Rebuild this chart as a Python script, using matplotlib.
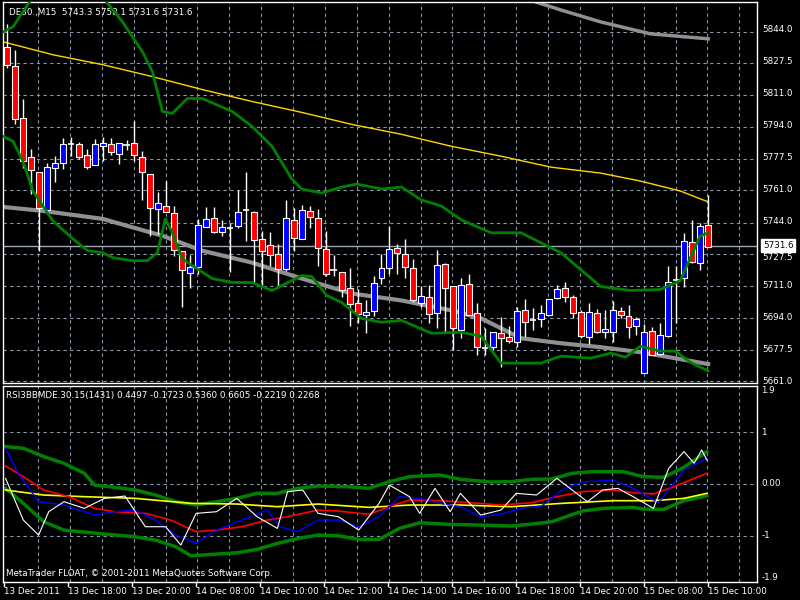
import matplotlib
matplotlib.use("Agg")
import matplotlib.pyplot as plt
import numpy as np

# ---- data (pixel-read, converted to prices) ----
Y0, P0, PPX = 30.0, 5844.0, 183.0/351.0
def px2p(y): return P0 - (np.asarray(y, float) - Y0) * PPX

# candles: open_y, close_y, high_y, low_y (read in chart pixels)
cand_open_y  = [45,64,117,156,171,209,167,162,143,143,154,164,145,143,153,144,142,156,173,208,205,212,250,272,266,226,217,231,227,225,209,211,238,244,253,268,219,238,210,217,248,269,271,288,303,315,311,277,267,247,253,267,303,297,313,263,285,330,283,313,348,347,333,337,342,310,320,319,315,298,288,297,312,337,313,332,332,311,316,326,373,331,354,336,279,277,241,262,224]
cand_close_y = [63,118,160,169,207,166,162,143,143,156,166,143,142,151,142,144,154,171,207,202,211,249,269,266,224,218,231,226,227,211,209,239,250,254,268,217,237,209,216,247,273,269,290,304,314,312,282,267,248,252,266,300,296,314,264,288,328,284,315,347,348,332,338,341,311,322,320,313,299,289,297,313,336,312,332,329,310,315,327,319,332,355,335,281,279,240,261,225,246]
cand_high_y  = [22,48,98,148,171,162,155,137,136,141,148,138,136,137,142,139,120,150,173,191,180,205,250,254,218,206,206,219,222,189,171,210,230,231,243,199,207,204,205,208,230,254,271,267,289,300,275,253,225,243,238,258,285,284,249,262,285,277,273,303,328,332,317,326,307,299,308,305,299,284,281,295,310,303,309,310,301,307,305,317,324,327,323,265,265,232,219,222,194]
cand_low_y   = [66,123,167,193,250,213,181,168,155,158,168,164,160,154,163,149,160,199,235,233,211,255,307,287,273,226,232,235,271,227,240,283,285,265,288,270,250,238,227,265,275,275,297,326,323,333,316,283,273,273,277,302,307,323,328,332,350,338,315,355,355,350,367,343,347,337,330,327,315,299,302,318,338,344,333,338,342,318,338,335,373,355,355,337,323,286,262,269,246]
cand_open = px2p(cand_open_y); cand_close = px2p(cand_close_y)
cand_high = px2p(cand_high_y); cand_low = px2p(cand_low_y)

def xs(px): return (np.asarray(px, float) - 4) / 8.0

yellow_x = [0,50,100,150,200,250,300,350,400,450,500,550,600,640,680,708]
yellow_y = [40,53,63,75,88,100,111,123,133,145,155,166,172,180,190,201]
graytop_x = [535,560,600,650,708]
graytop_y = [0,8,20,32,37]
graylow_x = [0,40,100,160,200,250,300,350,400,450,480,520,560,600,640,680,708]
graylow_y = [206,210,218,235,250,262,278,293,300,310,318,338,343,347,352,359,364]
bbup_x = [0,10,20,30,45,100,120,140,150,160,170,185,200,230,250,270,290,300,320,340,355,380,400,420,440,460,490,520,560,600,630,660,680,700,708]
bbup_y = [30,25,10,-5,-20,-5,20,50,70,110,112,97,97,110,125,145,178,188,192,186,183,188,186,199,205,219,232,232,252,286,290,289,280,235,232]
bblo_x = [0,10,20,30,40,50,70,85,100,110,130,145,155,163,170,180,190,210,230,250,270,280,300,310,325,340,360,380,400,430,460,480,500,540,560,590,610,625,640,660,675,690,708]
bblo_y = [135,140,160,190,205,220,238,250,252,257,260,260,252,218,232,258,265,278,282,282,290,285,275,276,295,302,318,322,320,333,332,336,363,363,356,358,353,357,346,351,351,362,371]
last_price = 5731.6

# indicator (zoom coords -> value)
def izx(z): return (np.asarray(z, float) / 1.96 - 4) / 8.0
def izy(z): return (312 - np.asarray(z, float)) / 154.5
ind_up = [(5,200),(40,205),(80,230),(120,250),(160,280),(180,315),(220,322),(260,330),(300,345),(340,365),(380,375),(420,365),(460,355),(500,340),(540,340),(580,325),(620,318),(680,320),(720,325),(760,305),(800,290),(860,285),(900,298),(960,306),(1000,305),(1040,298),(1080,297),(1120,280),(1160,275),(1220,275),(1260,290),(1300,292),(1340,262),(1385,215)]
ind_lo = [(5,325),(40,370),(80,425),(120,450),(200,462),(260,470),(300,480),(340,500),(370,527),(420,522),(460,518),(500,508),(540,490),(580,475),(620,465),(660,467),(700,478),(740,478),(780,445),(820,428),(880,433),(940,435),(1000,438),(1040,432),(1080,425),(1140,393),(1180,385),(1240,382),(1260,387),(1300,388),(1340,362),(1385,347)]
ind_yel = [(5,330),(80,345),(160,350),(260,355),(370,370),(460,372),(540,380),(620,372),(720,382),(800,375),(900,375),(1000,380),(1100,370),(1200,362),(1280,362),(1340,355),(1385,340)]
ind_red = [(5,258),(40,290),(80,330),(130,350),(180,385),(220,395),(280,400),(330,420),(380,455),(420,450),(470,440),(520,420),(560,410),(620,390),(660,393),(720,403),(760,380),(800,360),(860,362),(920,368),(980,375),(1040,368),(1090,350),(1140,335),(1200,330),(1240,338),(1280,342),(1320,320),(1385,280)]
ind_blue = [(5,205),(30,280),(70,365),(120,375),(180,405),(220,395),(260,390),(300,420),(340,465),(380,490),(420,450),(470,420),(520,390),(545,440),(580,455),(620,420),(660,420),(700,440),(740,410),(780,350),(820,355),(860,370),(900,380),(940,410),(980,402),(1020,385),(1060,378),(1100,330),(1140,306),(1200,300),(1240,325),(1290,368),(1340,270),(1385,235)]
ind_white = [(5,295),(40,420),(70,465),(90,395),(120,365),(160,385),(200,355),(240,348),(280,440),(320,440),(350,495),(380,400),(420,395),(460,355),(500,410),(540,445),(560,335),(590,330),(620,400),(660,410),(700,450),(740,370),(760,315),(800,350),(820,400),(850,325),(880,395),(900,340),(940,405),(980,390),(1010,340),(1050,345),(1090,295),(1120,330),(1150,365),(1180,330),(1210,325),(1240,350),(1280,385),(1310,265),(1340,215),(1360,250),(1375,210),(1385,240)]

price_ticks = [5844.0,5827.5,5811.0,5794.0,5777.5,5761.0,5744.0,5727.5,5711.0,5694.0,5677.5,5661.0]
date_labels = ['13 Dec 2011','13 Dec 18:00','13 Dec 20:00','14 Dec 08:00','14 Dec 10:00','14 Dec 12:00',
               '14 Dec 14:00','14 Dec 16:00','14 Dec 18:00','14 Dec 20:00','15 Dec 08:00','15 Dec 10:00']

# ---- figure ----
FS = 6.3
fig = plt.figure(figsize=(8, 6), dpi=100, facecolor='black')
W, H = 800.0, 600.0
ax = fig.add_axes([3/W, 1-383/H, 754/W, 381/H], facecolor='black')
ai = fig.add_axes([3/W, 1-582/H, 754/W, 196/H], facecolor='black')
xlim = ((0-4)/8.0, (757-4)/8.0)
GRID = dict(color='#8896a8', ls=(0, (3, 3)), lw=0.8)

for a in (ax, ai):
    a.set_xlim(*xlim)
    for s in a.spines.values():
        s.set_color('white'); s.set_linewidth(1)
    for g in np.arange(3.9, 94, 4):
        a.axvline(g, zorder=0, **GRID)
    a.set_xticks([]); a.set_yticks([])

ax.set_ylim(px2p(383), px2p(0))
for p in price_ticks:
    ax.axhline(p, zorder=0, **GRID)
    yy = Y0 + (P0 - p) / PPX
    if p == 5727.5:
        yy += 4
    fig.text(762/W, 1-yy/H, f'{p:.1f}', color='white', fontsize=FS, va='center', ha='left')

# moving averages & bands
ax.plot(xs(yellow_x), px2p(yellow_y), color='#ffd700', lw=1, zorder=2)
ax.plot(xs(graytop_x), px2p(graytop_y), color='#909090', lw=2.5, zorder=2)
ax.plot(xs(graylow_x), px2p(graylow_y), color='#909090', lw=3, zorder=2)
ax.plot(xs(bbup_x), px2p(bbup_y), color='#008000', lw=2, zorder=4)
ax.plot(xs(bblo_x), px2p(bblo_y), color='#008000', lw=2, zorder=4)

# candles
idx = np.arange(len(cand_open))
for i in idx:
    o, c, h, l = cand_open[i], cand_close[i], cand_high[i], cand_low[i]
    ax.vlines(i, l, h, color='white', lw=1, zorder=3)
    if abs(o - c) < 0.6:
        ax.hlines(o, i-0.4, i+0.4, color='white', lw=1.2, zorder=3)
    else:
        col = '#0000ff' if c > o else '#ff0000'
        ax.bar(i, abs(c-o), bottom=min(o, c), width=0.75, color=col, edgecolor='white', lw=0.8, zorder=3)

ax.axhline(last_price, color='#a0a8b8', lw=1, zorder=1)
fig.text(763/W, 1-(Y0+(P0-last_price)/PPX)/H, f'{last_price:.1f}', color='black', fontsize=FS, va='center',
         ha='left', bbox=dict(facecolor='white', edgecolor='white', pad=1.2), zorder=10)
ax.text(0.008, 0.985, 'DE30.,M15  5743.3 5758.1 5731.6 5731.6', transform=ax.transAxes,
        color='white', fontsize=FS, va='top', ha='left')

# indicator
ai.set_ylim(-1.9, 1.9)
for v in (1, 0, -1):
    ai.axhline(v, zorder=0, **GRID)
for lab, v, va in (('1.9', 1.9, 'top'), ('1', 1, 'center'), ('0.00', 0, 'center'), ('-1', -1, 'center'), ('-1.9', -1.9, 'bottom')):
    ai.text(1.006, (v+1.9)/3.8, lab, transform=ai.transAxes, color='white', fontsize=FS, va=va, ha='left')
for data, col, lw in ((ind_up, '#008000', 2.5), (ind_lo, '#008000', 2.5), (ind_yel, '#ffff00', 1.2),
                      (ind_red, '#ff0000', 1.2), (ind_blue, '#0000ff', 1), (ind_white, '#ffffff', 0.8)):
    d = np.array(data, float)
    ai.plot(izx(d[:, 0]), izy(d[:, 1]), color=col, lw=lw)
ai.text(0.004, 0.975, 'RSI3BBMDE.30.15(1431) 0.4497 -0.1723 0.5360 0.6605 -0.2219 0.2268', transform=ai.transAxes,
        color='white', fontsize=FS, va='top', ha='left')
ai.text(0.004, 0.02, 'MetaTrader FLOAT, © 2001-2011 MetaQuotes Software Corp.', transform=ai.transAxes,
        color='white', fontsize=FS, va='bottom', ha='left')

# date labels
for k, lab in enumerate(date_labels):
    xi = k * 8
    xp = 4 + 8 * xi
    fig.text(xp/W, 1-592/H, lab, color='white', fontsize=FS, va='center', ha='left')
    fig.add_artist(plt.Line2D([xp/W, xp/W], [1-582/H, 1-586/H], color='white', lw=1))

fig.savefig('out.png', dpi=100, facecolor='black')
